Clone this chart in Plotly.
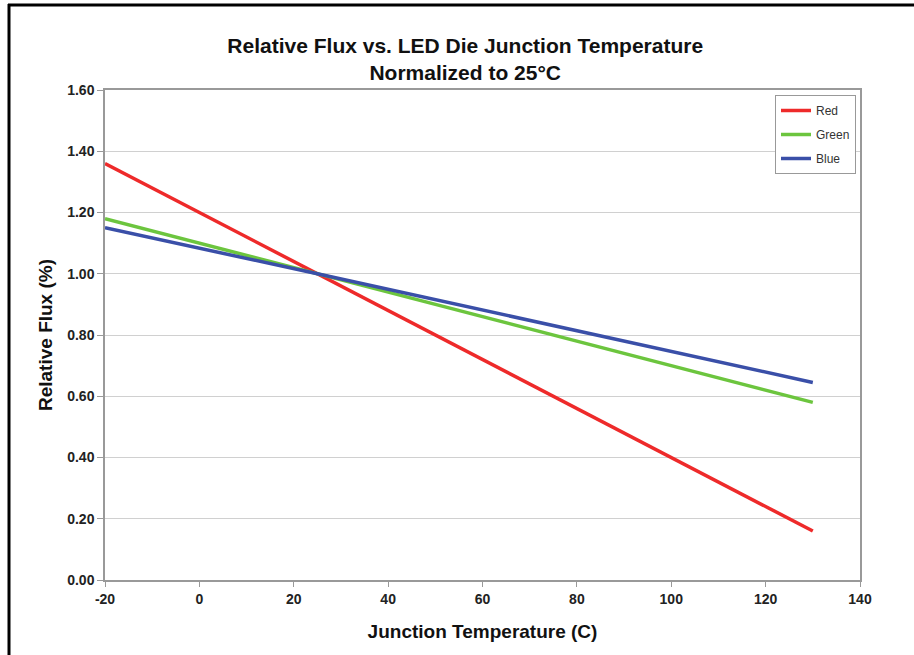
import plotly.graph_objects as go

temps = [-20, 25, 130]
red = [1.36, 1.00, 0.16]
green = [1.18, 1.00, 0.58]
blue = [1.15, 1.00, 0.645]
y_ticks = [0.0, 0.2, 0.4, 0.6, 0.8, 1.0, 1.2, 1.4, 1.6]
x_ticks = [-20, 0, 20, 40, 60, 80, 100, 120, 140]

W, H = 914, 655
L, R, T, B = 105, 54, 90, 75
pw, ph = W - L - R, H - T - B

def px(x):
    return (x - L) / pw

def py(y):
    return (H - B - y) / ph

fig = go.Figure()
for name, ys, col in [("Red", red, "#ee2a2a"), ("Green", green, "#6cc53e"), ("Blue", blue, "#3a4fa8")]:
    fig.add_trace(go.Scatter(x=temps, y=ys, mode="lines", name=name, legendgroup=name,
                             line=dict(color=col, width=3.5)))

font = "Liberation Sans, Arial, sans-serif"
fig.update_layout(
    width=W, height=H,
    margin=dict(l=L, r=R, t=T, b=B),
    paper_bgcolor="white", plot_bgcolor="white",
    font=dict(family=font, color="#222"),
    title=dict(text="<b>Relative Flux vs. LED Die Junction Temperature<br>Normalized to 25°C</b>",
               x=0.509, xanchor="center", y=1 - 53 / H, yanchor="middle",
               font=dict(size=21, family=font, color="#111")),
    showlegend=True,
    legend=dict(x=px(775), y=py(95), xanchor="left", yanchor="top",
                bordercolor="#999", borderwidth=1, bgcolor="white",
                font=dict(size=12, family=font, color="#333"),
                tracegroupgap=5, itemwidth=30),
    xaxis=dict(range=[-20, 140], tickvals=x_ticks, ticktext=[f"<b>{v}</b>" for v in x_ticks],
               showgrid=False, zeroline=False, showline=True, linecolor="#999", linewidth=1.5,
               mirror=True, ticks="outside", ticklen=5, tickcolor="#999",
               tickfont=dict(size=14, family=font, color="#222"),
               title=dict(text="<b>Junction Temperature (C)</b>", font=dict(size=19, family=font, color="#111"),
                          standoff=19)),
    yaxis=dict(range=[0, 1.6], tickvals=y_ticks, ticktext=[f"<b>{v:.2f}</b>" for v in y_ticks],
               showgrid=True, gridcolor="#d0d0d0", gridwidth=1, zeroline=False,
               showline=True, linecolor="#999", linewidth=1.5, mirror=True,
               ticks="outside", ticklen=6, tickcolor="#999",
               tickfont=dict(size=14, family=font, color="#222"),
               title=dict(text="<b>Relative Flux (%)</b>", font=dict(size=19, family=font, color="#111"),
                          standoff=10)),
)

# image frame (left and top edges)
fig.add_shape(type="line", xref="paper", yref="paper", x0=px(9), x1=px(9), y0=py(4), y1=py(H + 5),
              line=dict(color="black", width=3))
fig.add_shape(type="line", xref="paper", yref="paper", x0=px(8), x1=px(W + 5), y0=py(5), y1=py(5),
              line=dict(color="black", width=3))

fig.write_html("out.html", config={"displayModeBar": False},
               post_script="document.body.style.margin='0';")
